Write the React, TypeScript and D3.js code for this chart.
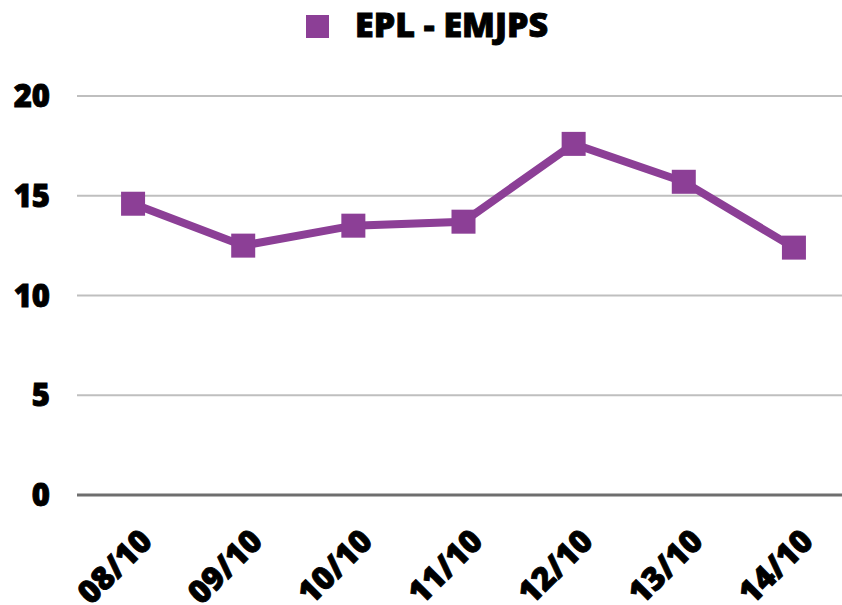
import React from "react";
import * as d3 from "d3";

const categories = ["08/10", "09/10", "10/10", "11/10", "12/10", "13/10", "14/10"];
const values = [14.6, 12.5, 13.5, 13.7, 17.6, 15.7, 12.4];
const yTicks = [0, 5, 10, 15, 20];
const seriesName = "EPL - EMJPS";

const W = 842;
const H = 605;
const COLOR = "#8C3F96";
const FONT = "'Open Sans', sans-serif";

export default function App() {
  const x = d3.scaleBand<string>().domain(categories).range([78, 849]);
  const y = d3.scaleLinear().domain([0, 20]).range([495, 96]);
  const cx = (c: string) => (x(c) as number) + x.bandwidth() / 2;
  const line = d3
    .line<number>()
    .x((_, i) => cx(categories[i]))
    .y((d) => y(d));
  const m = 24;
  const textProps = {
    fontFamily: FONT,
    fontWeight: 800,
    fill: "#000",
    stroke: "#000",
    strokeWidth: 0.9,
  };
  return (
    <svg width={W} height={H} style={{ position: "absolute", left: 0, top: 0, background: "#fff" }}>
      {yTicks.map((t) => (
        <g key={t}>
          <line
            x1={77}
            x2={842}
            y1={y(t)}
            y2={y(t)}
            stroke={t === 0 ? "#6e6e6e" : "#bfbfbf"}
            strokeWidth={t === 0 ? 3 : 2}
          />
          <text x={50} y={y(t)} dy="0.36em" textAnchor="end" fontSize={31} {...textProps}>
            {t}
          </text>
        </g>
      ))}
      <path d={line(values) || ""} fill="none" stroke={COLOR} strokeWidth={8} strokeLinejoin="miter" />
      {values.map((v, i) => (
        <rect key={i} x={cx(categories[i]) - m / 2} y={y(v) - m / 2} width={m} height={m} fill={COLOR} />
      ))}
      {categories.map((c) => (
        <text
          key={c}
          transform={`translate(${cx(c) + 21},${543}) rotate(-45)`}
          textAnchor="end"
          fontSize={32}
          {...textProps}
        >
          {c}
        </text>
      ))}
      <rect x={306} y={15} width={23} height={23} fill={COLOR} />
      <text x={355} y={37} fontSize={34} {...textProps}>
        {seriesName}
      </text>
    </svg>
  );
}
